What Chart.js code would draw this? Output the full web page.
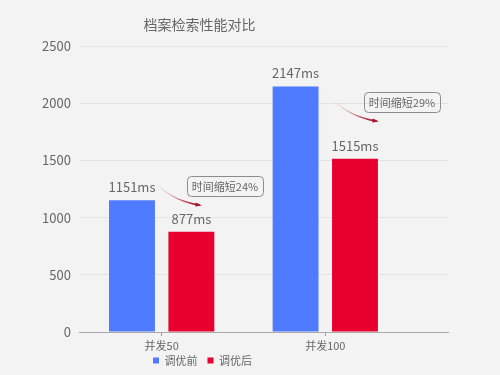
<!DOCTYPE html>
<html>
<head>
<meta charset="utf-8">
<script src="https://cdn.jsdelivr.net/npm/chart.js@4"></script>
<style>
html,body{margin:0;padding:0;background:#f3f3f3;}
#wrap{width:500px;height:375px;position:relative;}
</style>
</head>
<body>
<div id="wrap"><canvas id="c" width="500" height="375"></canvas></div>
<script>
const chartTitle = '档案检索性能对比';
const categories = ['并发50', '并发100'];
const seriesNames = ['调优前', '调优后'];
const beforeTuning = [1151, 2147];
const afterTuning = [877, 1515];
const reductionText = ['时间缩短24%', '时间缩短29%'];
const yTicks = [0, 500, 1000, 1500, 2000, 2500];

const FONT = '"Noto Sans CJK SC", "Noto Sans", sans-serif';

const valueLabels = {
  id: 'valueLabels',
  afterDatasetsDraw(chart) {
    const ctx = chart.ctx;
    ctx.save();
    ctx.font = '13px ' + FONT;
    ctx.fillStyle = '#666';
    ctx.textAlign = 'center';
    ctx.textBaseline = 'alphabetic';
    chart.data.datasets.forEach((ds, di) => {
      chart.getDatasetMeta(di).data.forEach((bar, i) => {
        ctx.fillText(ds.data[i] + 'ms', bar.x, bar.y - 8);
      });
    });
    ctx.restore();
  }
};

const callouts = {
  id: 'callouts',
  afterDatasetsDraw(chart, args, opts) {
    const xs = chart.scales.x, ys = chart.scales.y, ctx = chart.ctx;
    opts.items.forEach((it, i) => {
      const text = reductionText[i];
      ctx.save();
      ctx.font = '11px ' + FONT;
      const w = Math.round(ctx.measureText(text).width + 10), h = 20;
      const left = Math.round(xs.getPixelForValue(it.x));
      const cy = Math.round(ys.getPixelForValue(it.y));
      const top = cy - h / 2;
      ctx.beginPath();
      ctx.roundRect(left + 0.5, top + 0.5, w, h, 4);
      ctx.strokeStyle = '#8c8c8c';
      ctx.lineWidth = 1;
      ctx.stroke();
      ctx.fillStyle = '#666';
      ctx.textAlign = 'center';
      ctx.textBaseline = 'middle';
      ctx.fillText(text, left + w / 2, cy + 1);
      // curved tapered arrow
      const sx = left - 30, sy = cy - 1.5, ex = left + 12, ey = top + h + 9;
      const dx = ex - sx, dy = ey - sy;
      const cx = sx + 0.4 * dx, cyy = sy + 0.8 * dy;
      const N = 30;
      const pt = t => [
        (1 - t) * (1 - t) * sx + 2 * (1 - t) * t * cx + t * t * ex,
        (1 - t) * (1 - t) * sy + 2 * (1 - t) * t * cyy + t * t * ey
      ];
      ctx.lineCap = 'round';
      for (let k = 0; k < N; k++) {
        const t0 = k / N, t1 = (k + 1) / N;
        const a = pt(t0), b = pt(t1);
        ctx.beginPath();
        ctx.moveTo(a[0], a[1]);
        ctx.lineTo(b[0], b[1]);
        ctx.lineWidth = 0.3 + 1.3 * t1;
        const r = Math.round(230 - 55 * t1), g = Math.round(160 - 140 * t1), bl = Math.round(170 - 125 * t1);
        ctx.strokeStyle = 'rgba(' + r + ',' + g + ',' + bl + ',' + (0.3 + 0.7 * t1) + ')';
        ctx.stroke();
      }
      const tx = ex - cx, ty = ey - cyy, len = Math.hypot(tx, ty);
      const ux = tx / len, uy = ty / len;
      ctx.beginPath();
      ctx.moveTo(ex + ux * 3, ey + uy * 3);
      ctx.lineTo(ex - ux * 3.5 - uy * 2, ey - uy * 3.5 + ux * 2);
      ctx.lineTo(ex - ux * 3.5 + uy * 2, ey - uy * 3.5 - ux * 2);
      ctx.closePath();
      ctx.fillStyle = '#a8142c';
      ctx.fill();
      ctx.restore();
    });
  }
};

const shiftBlocks = {
  id: 'shiftBlocks',
  afterLayout(chart, args, opts) {
    const t = chart.titleBlock, l = chart.legend;
    if (t) { t.left += opts.titleDx; t.right += opts.titleDx; t.top += opts.titleDy; t.bottom += opts.titleDy; }
    if (l) { l.left += opts.legendDx; l.right += opts.legendDx; l.top += opts.legendDy; l.bottom += opts.legendDy; }
    chart.scales.x.bottom += opts.xLabelRoom;
  }
};

new Chart(document.getElementById('c'), {
  type: 'bar',
  data: {
    labels: categories,
    datasets: [
      { label: seriesNames[0], data: beforeTuning, backgroundColor: '#4e7bff', borderWidth: 0 },
      { label: seriesNames[1], data: afterTuning, backgroundColor: '#e8002f', borderWidth: 0 }
    ]
  },
  options: {
    responsive: false,
    devicePixelRatio: 1,
    animation: false,
    categoryPercentage: 0.726,
    barPercentage: 0.773,
    layout: { padding: { left: 33, right: 52, top: 0, bottom: 0 } },
    scales: {
      x: {
        afterBuildTicks: s => { s._valueRange = 2.25; },
        afterFit: s => { s.height = 12; },
        grid: { offset: false, drawOnChartArea: false, drawTicks: true, tickLength: 4, color: '#999' },
        border: { color: '#aaa' },
        ticks: { font: { size: 11, family: FONT }, color: '#666', padding: 3 }
      },
      y: {
        min: yTicks[0],
        max: yTicks[yTicks.length - 1],
        ticks: {
          stepSize: yTicks[1] - yTicks[0],
          callback: v => String(v),
          font: { size: 13, family: FONT }, color: '#666', padding: 9
        },
        grid: { color: '#e2e2e2', drawTicks: false },
        border: { display: false }
      }
    },
    plugins: {
      title: {
        display: true,
        text: chartTitle,
        color: '#666',
        font: { size: 14, family: FONT, weight: 'normal' },
        padding: { top: 14.6, bottom: 14.6 }
      },
      legend: {
        position: 'bottom',
        labels: { boxWidth: 6, boxHeight: 6, padding: 10, color: '#666', font: { size: 11, family: FONT } }
      },
      tooltip: { enabled: false },
      callouts: { items: [ { x: 0.152, y: 1278 }, { x: 1.238, y: 2013 } ] },
      shiftBlocks: { titleDx: -41, titleDy: 1.5, legendDx: -38, legendDy: 1, xLabelRoom: 12 }
    }
  },
  plugins: [valueLabels, callouts, shiftBlocks]
});
</script>
</body>
</html>
